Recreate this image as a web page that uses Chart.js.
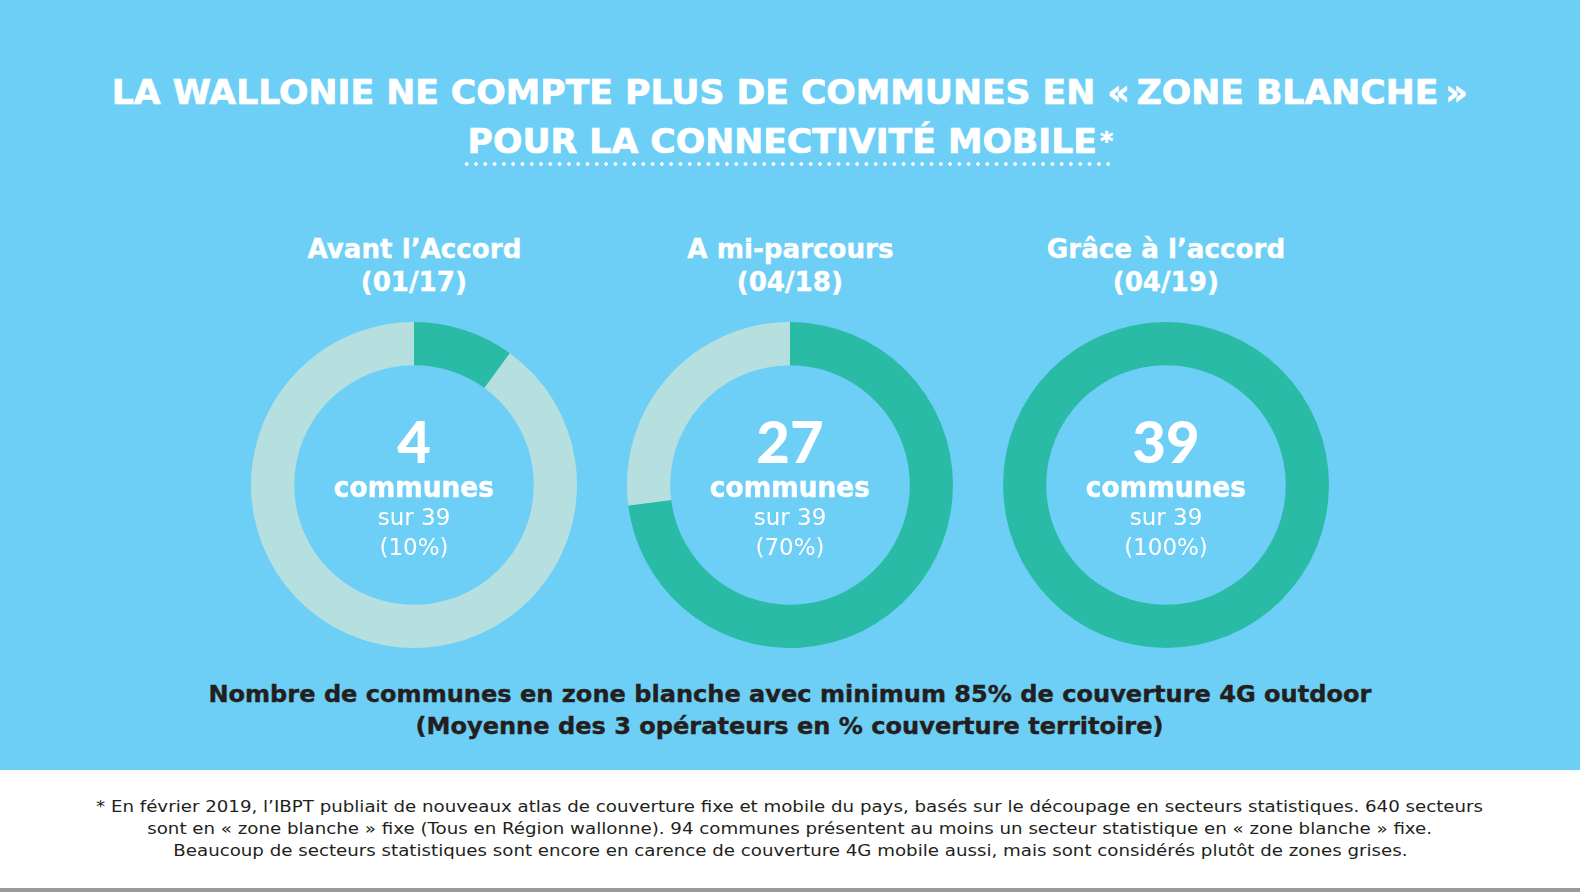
<!DOCTYPE html>
<html>
<head>
<meta charset="utf-8">
<script src="https://cdn.jsdelivr.net/npm/chart.js@4.4.0/dist/chart.umd.min.js"></script>
<style>
  body { margin: 0; width: 1580px; height: 892px; overflow: hidden; background: #fff; font-family: "DejaVu Sans", sans-serif; position: relative; }
  #bleu { position: absolute; left: 0; top: 0; width: 1580px; height: 770px; background: #6dcff6; }
  .ligne { position: absolute; left: 0; width: 1580px; text-align: center; white-space: nowrap; }
  .txt { display: inline-block; transform-origin: center; }
  #titre1, #titre2 { color: #fff; font-weight: 700; font-size: 33px; line-height: 40px; -webkit-text-stroke: 0.7px #fff; }
  #titre1 { top: 73px; }
  #titre2 { top: 121px; }
  #titre2 .ast { font-size: 24px; vertical-align: 4px; margin-left: 3px; }
  #pointilles { position: absolute; left: 462px; top: 161px; width: 652px; height: 6px;
    background-image: radial-gradient(ellipse 1.6px 2.6px at center, #fff 90%, transparent 100%);
    background-size: 9.3px 6px; }
  .panneau { position: absolute; top: 0; width: 376px; height: 770px; }
  .panneau .t { position: absolute; left: 0; width: 376px; text-align: center; color: #fff; font-weight: 700; font-size: 27px; line-height: 34px; white-space: nowrap; -webkit-text-stroke: 0.4px #fff; }
  .boite { position: absolute; left: 25px; top: 322px; width: 326px; height: 326px; }
  .centre { position: absolute; left: 0; width: 376px; text-align: center; color: #fff; white-space: nowrap; }
  .nb { font-family: Lato, sans-serif; font-weight: 900; font-size: 58px; line-height: 60px; }
  .com { font-weight: 700; font-size: 28px; line-height: 32px; -webkit-text-stroke: 0.5px #fff; }
  .sur { font-weight: 400; font-size: 23px; line-height: 28px; }
  #legende1, #legende2 { color: #231f20; font-weight: 700; font-size: 23px; line-height: 30px; -webkit-text-stroke: 0.4px #231f20; }
  #legende1 { top: 679px; }
  #legende2 { top: 711px; }
  .note { color: #231f20; font-size: 16px; line-height: 22px; }
  #gris { position: absolute; left: 0; top: 888px; width: 1580px; height: 4px; background: #9a9a9a; }
</style>
</head>
<body>
<div id="bleu"></div>
<div class="ligne" id="titre1"><span class="txt">LA WALLONIE NE COMPTE PLUS DE COMMUNES EN «&#8239;ZONE BLANCHE&#8239;»</span></div>
<div class="ligne" id="titre2"><span class="txt">POUR LA CONNECTIVITÉ MOBILE<span class="ast">*</span></span></div>
<div id="pointilles"></div>
<div id="panneaux"></div>
<div class="ligne" id="legende1"><span class="txt">Nombre de communes en zone blanche avec minimum 85% de couverture 4G outdoor</span></div>
<div class="ligne" id="legende2"><span class="txt">(Moyenne des 3 opérateurs en % couverture territoire)</span></div>
<div class="ligne note" style="top:796px"><span class="txt">* En février 2019, l’IBPT publiait de nouveaux atlas de couverture fixe et mobile du pays, basés sur le découpage en secteurs statistiques. 640 secteurs</span></div>
<div class="ligne note" style="top:818px"><span class="txt">sont en « zone blanche » fixe (Tous en Région wallonne). 94 communes présentent au moins un secteur statistique en « zone blanche » fixe.</span></div>
<div class="ligne note" style="top:840px"><span class="txt">Beaucoup de secteurs statistiques sont encore en carence de couverture 4G mobile aussi, mais sont considérés plutôt de zones grises.</span></div>
<div id="gris"></div>

<script>
// données
const periodes = ["Avant l’Accord", "A mi-parcours", "Grâce à l’accord"];
const dates = ["(01/17)", "(04/18)", "(04/19)"];
const communes = [4, 27, 39];
const totalCommunes = 39;
const pourcentages = ["10%", "70%", "100%"];
// part de l'anneau
const partCouverte = [10, 73, 100];
const partRestante = [90, 27, 0];

const vert = "#29bba5";
const clair = "#b6e0e0";

const conteneur = document.getElementById("panneaux");

for (let i = 0; i < periodes.length; i++) {
  const p = document.createElement("div");
  p.className = "panneau";
  p.style.left = (226 + i * 376) + "px";
  p.innerHTML =
    `<div class="t" style="top:232px"><span class="txt">${periodes[i]}</span></div>
     <div class="t" style="top:265px"><span class="txt">${dates[i]}</span></div>
     <div class="boite"><canvas id="graph${i}"></canvas></div>
     <div class="centre nb" style="top:411px">${communes[i]}</div>
     <div class="centre com" style="top:472px"><span class="txt">communes</span></div>
     <div class="centre sur" style="top:503px"><span class="txt">sur ${totalCommunes}</span></div>
     <div class="centre sur" style="top:533px"><span class="txt">(${pourcentages[i]})</span></div>`;
  conteneur.appendChild(p);

  new Chart(document.getElementById("graph" + i), {
    type: "doughnut",
    data: {
      labels: ["Couvert", "Zone blanche"],
      datasets: [{
        data: [partCouverte[i], partRestante[i]],
        backgroundColor: [vert, clair],
        borderWidth: 0,
        offset: 0,
        hoverOffset: 0
      }]
    },
    options: {
      responsive: true,
      maintainAspectRatio: false,
      animation: false,
      cutout: "73.5%",
      layout: { padding: 0 },
      plugins: { legend: { display: false }, tooltip: { enabled: false } }
    }
  });
}

// étire horizontalement un groupe de lignes sur la largeur d'une ligne modèle
function ajuster(modele, largeur, groupe) {
  const s = modele.querySelector(".txt");
  const k = largeur / s.getBoundingClientRect().width;
  groupe.forEach(el => { el.querySelector(".txt").style.transform = "scaleX(" + k + ")"; });
}
ajuster(document.getElementById("titre1"), 1356, [titre1, titre2]);
ajuster(document.getElementById("legende1"), 1163, [legende1, legende2]);
const notes = [...document.querySelectorAll(".note")];
ajuster(notes[0], 1387, notes);
const titresP = [...document.querySelectorAll(".panneau .t")];
ajuster(titresP[0], 214, titresP);
const coms = [...document.querySelectorAll(".com")];
ajuster(coms[0], 160, coms);
</script>
</body>
</html>
